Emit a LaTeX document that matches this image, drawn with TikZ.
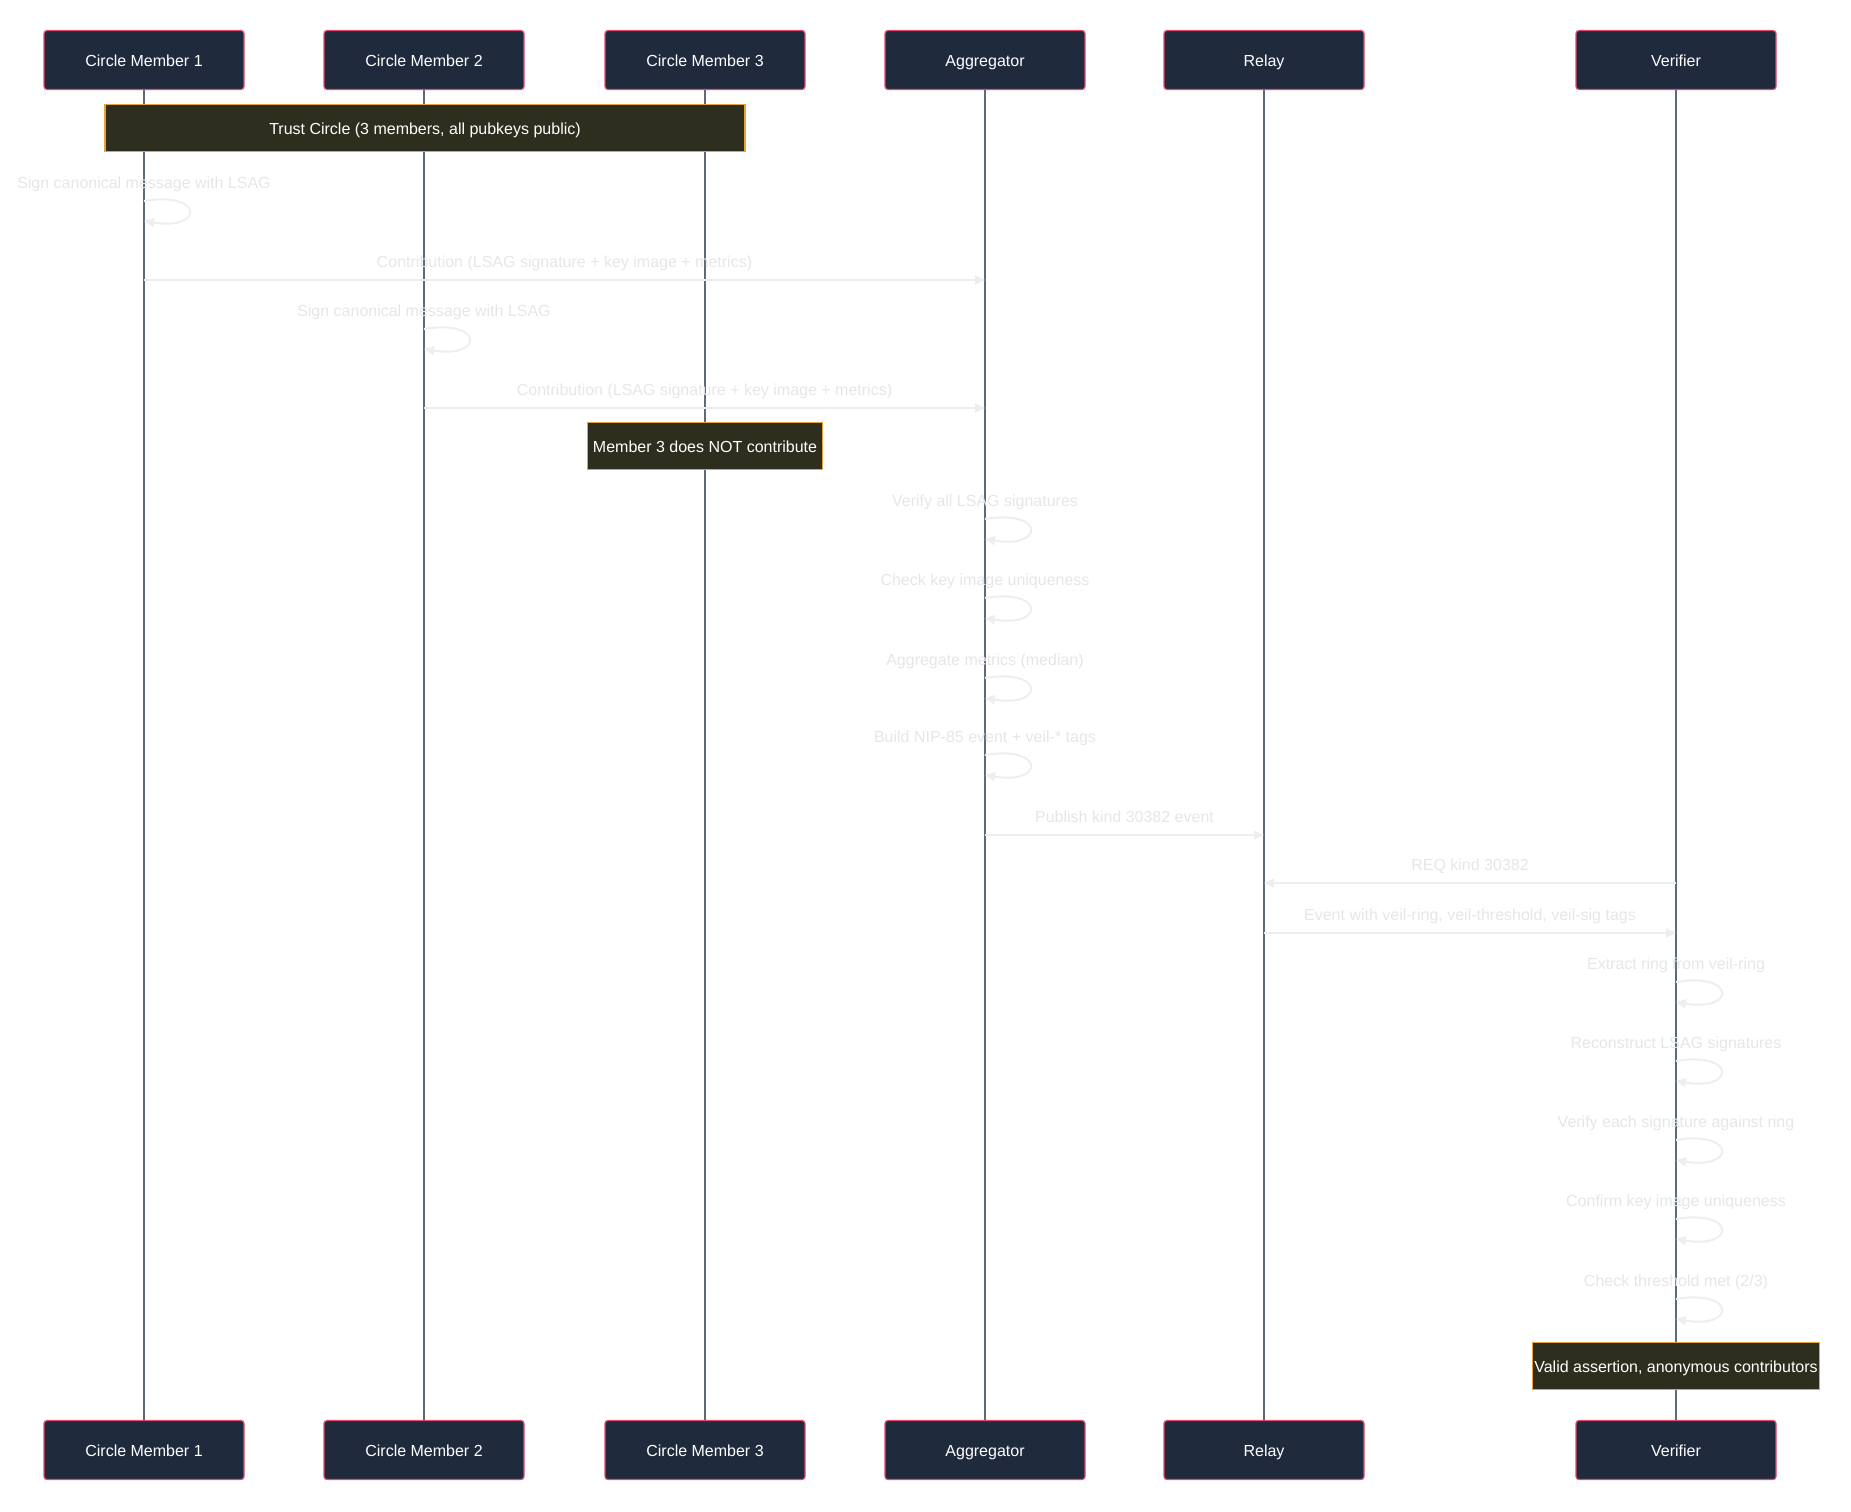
\documentclass[tikz,border=0pt]{standalone}
\usepackage{fontspec}
\setmainfont{Liberation Sans}
\usetikzlibrary{arrows.meta}
\definecolor{actorfill}{HTML}{1F2A3D}
\definecolor{actorline}{HTML}{DF4A6E}
\definecolor{lifecol}{HTML}{5E6A7C}
\definecolor{notefill}{HTML}{2E2E1E}
\definecolor{noteline}{HTML}{E8A23A}
\definecolor{msgcol}{HTML}{EEEEEE}
\definecolor{msgtext}{HTML}{E6E6E6}
\tikzset{
  actor/.style={draw=actorline, fill=actorfill, line width=0.6pt, rounded corners=1.5pt,
    minimum width=100pt, minimum height=29.5pt, text=white, text height=1.6ex, text depth=0.4ex,
    font=\fontsize{8}{10}\selectfont},
  lifeline/.style={draw=lifecol, line width=1pt},
  notebox/.style={draw=noteline, fill=notefill, line width=0.6pt, minimum height=23.5pt,
    inner sep=1pt, text=white, text height=1.6ex, text depth=0.4ex, font=\fontsize{8}{10}\selectfont},
  msg/.style={draw=msgcol, line width=1pt, -{Triangle[length=5pt,width=4.5pt]}},
  msglabel/.style={text=msgtext, font=\fontsize{8}{10}\selectfont, inner sep=0pt,
    text height=1.6ex, text depth=0.4ex}
}
\newcommand{\selfmsg}[4]{%
  \coordinate (#1a) at (#2 |- 0,#3);
  \coordinate (#1b) at (#2 |- 0,#3+20);
  \node[msglabel] (#1) at (#2 |- 0,#3-19) {#4};
  \draw[msg] (#1a) .. controls +(60,-10) and +(60,10) .. (#1b);
}

\begin{document}
\begin{tikzpicture}[x=0.5pt,y=-0.5pt]
\useasboundingbox (0,0) rectangle (1851,1511);

% participants, top and bottom
\node[actor] (cm1) at (144,60) {Circle Member 1};
\node[actor] (cm2) at (424,60) {Circle Member 2};
\node[actor] (cm3) at (705,60) {Circle Member 3};
\node[actor] (agg) at (985,60) {Aggregator};
\node[actor] (relay) at (1264,60) {Relay};
\node[actor] (ver) at (1676,60) {Verifier};
\node[actor] (cm1b) at (144,1450) {Circle Member 1};
\node[actor] (cm2b) at (424,1450) {Circle Member 2};
\node[actor] (cm3b) at (705,1450) {Circle Member 3};
\node[actor] (aggb) at (985,1450) {Aggregator};
\node[actor] (relayb) at (1264,1450) {Relay};
\node[actor] (verb) at (1676,1450) {Verifier};

\draw[lifeline] (cm1) -- (cm1b);
\draw[lifeline] (cm2) -- (cm2b);
\draw[lifeline] (cm3) -- (cm3b);
\draw[lifeline] (agg) -- (aggb);
\draw[lifeline] (relay) -- (relayb);
\draw[lifeline] (ver) -- (verb);

\node[notebox, minimum width=320pt] (trust) at (425,128) {Trust Circle (3 members, all pubkeys public)};

\selfmsg{sign1}{cm1}{201}{Sign canonical message with LSAG}
\coordinate (c1s) at (cm1 |- 0,280);
\coordinate (c1e) at (agg |- 0,280);
\draw[msg] (c1s) -- node[msglabel, midway, yshift=9.5pt] (contrib1) {Contribution (LSAG signature + key image + metrics)} (c1e);

\selfmsg{sign2}{cm2}{329}{Sign canonical message with LSAG}
\coordinate (c2s) at (cm2 |- 0,408);
\coordinate (c2e) at (agg |- 0,408);
\draw[msg] (c2s) -- node[msglabel, midway, yshift=9.5pt] (contrib2) {Contribution (LSAG signature + key image + metrics)} (c2e);

\node[notebox, minimum width=117.5pt] (nocontrib) at (705,446) {Member 3 does NOT contribute};

\selfmsg{verall}{agg}{519}{Verify all LSAG signatures}
\selfmsg{checkki}{agg}{598}{Check key image uniqueness}
\selfmsg{median}{agg}{678}{Aggregate metrics (median)}
\selfmsg{build}{agg}{755}{Build NIP-85 event + veil-* tags}

\coordinate (pubs) at (agg |- 0,835);
\coordinate (pube) at (relay |- 0,835);
\draw[msg] (pubs) -- node[msglabel, midway, yshift=9.5pt] (publish) {Publish kind 30382 event} (pube);

\coordinate (reqs) at (ver |- 0,883);
\coordinate (reqe) at (relay |- 0,883);
\draw[msg] (reqs) -- node[msglabel, midway, yshift=9.5pt] (req) {REQ kind 30382} (reqe);

\coordinate (evs) at (relay |- 0,933);
\coordinate (eve) at (ver |- 0,933);
\draw[msg] (evs) -- node[msglabel, midway, yshift=9.5pt] (event) {Event with veil-ring, veil-threshold, veil-sig tags} (eve);

\selfmsg{extract}{ver}{982}{Extract ring from veil-ring}
\selfmsg{recon}{ver}{1061}{Reconstruct LSAG signatures}
\selfmsg{vereach}{ver}{1140}{Verify each signature against ring}
\selfmsg{confirm}{ver}{1219}{Confirm key image uniqueness}
\selfmsg{thresh}{ver}{1299}{Check threshold met (2/3)}

\node[notebox, minimum width=143.5pt] (valid) at (1676,1366) {Valid assertion, anonymous contributors};
\end{tikzpicture}
\end{document}
